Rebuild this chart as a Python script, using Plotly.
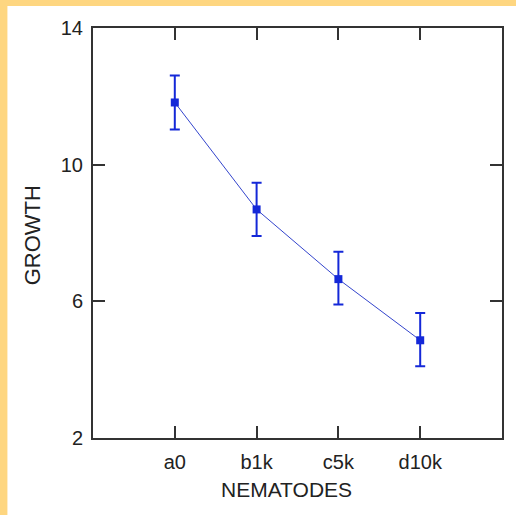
import plotly.graph_objects as go

categories = ["a0", "b1k", "c5k", "d10k"]
growth = [11.82, 8.69, 6.65, 4.86]
err_plus = [0.79, 0.78, 0.80, 0.80]
err_minus = [0.79, 0.78, 0.74, 0.76]
y_ticks = [2, 6, 10, 14]

W, H = 516, 515
L, R, T, B = 93, 12, 28, 77
pw, ph = W - L - R, H - T - B

def px(x):
    return (x - L) / pw

def py(y):
    return (H - B - y) / ph

BLUE = "#1428d8"
YEL = "#FED680"
FONT = "Liberation Sans, Arial, sans-serif"

fig = go.Figure()
fig.add_trace(go.Scatter(
    x=list(range(len(categories))), y=growth,
    mode="lines+markers",
    line=dict(color="#3344cc", width=1),
    marker=dict(symbol="square", size=8, color=BLUE),
    error_y=dict(type="data", array=err_plus, arrayminus=err_minus,
                 color=BLUE, thickness=2, width=5),
    showlegend=False,
))

axis_common = dict(
    showline=True, linecolor="#333333", linewidth=2, mirror="allticks",
    ticks="inside", ticklen=12, tickwidth=2, tickcolor="#333333",
    showgrid=False, zeroline=False,
    tickfont=dict(family=FONT, size=20, color="#222222"),
)
fig.update_xaxes(range=[-1, 4], tickvals=list(range(len(categories))),
                 ticktext=categories, ticklabelstandoff=5, **axis_common)
fig.update_yaxes(range=[2, 14], tickvals=y_ticks, ticklabelstandoff=4, **axis_common)

fig.add_annotation(text="NEMATODES", xref="paper", yref="paper",
                   x=px(287), y=py(489), xanchor="center", yanchor="middle",
                   showarrow=False,
                   font=dict(family=FONT, size=21, color="#222222"))
fig.add_annotation(text="GROWTH", xref="paper", yref="paper", textangle=-90,
                   x=px(32), y=py(235), xanchor="center", yanchor="middle",
                   showarrow=False,
                   font=dict(family=FONT, size=22, color="#222222"))

fig.add_shape(type="rect", xref="paper", yref="paper", layer="above",
              x0=px(-5), x1=px(W + 5), y0=py(6), y1=py(-5),
              fillcolor=YEL, line=dict(width=0))
fig.add_shape(type="rect", xref="paper", yref="paper", layer="above",
              x0=px(-5), x1=px(7), y0=py(H + 5), y1=py(-5),
              fillcolor=YEL, line=dict(width=0))

fig.update_layout(
    width=W, height=H,
    margin=dict(l=L, r=R, t=T, b=B, pad=0),
    paper_bgcolor="white", plot_bgcolor="white",
)

fig.write_html("out.html")
